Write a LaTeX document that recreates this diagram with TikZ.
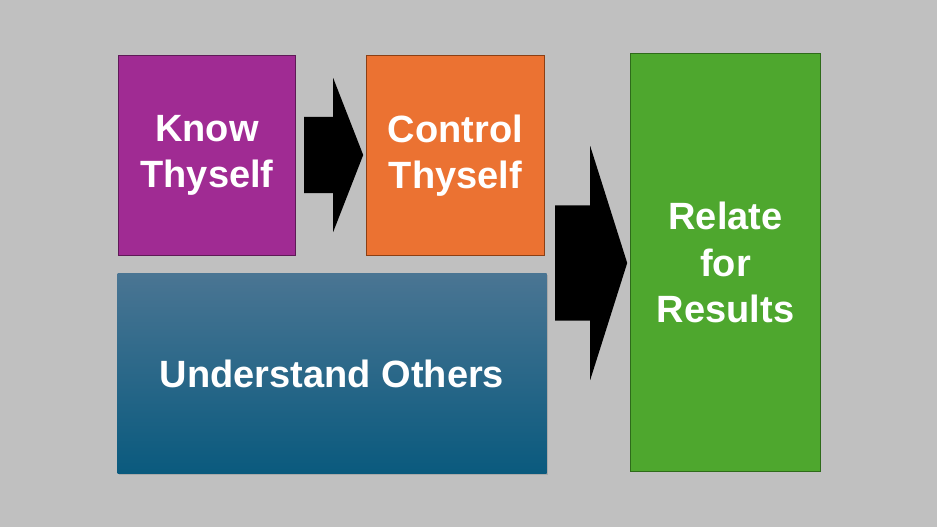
\documentclass[tikz,border=0pt]{standalone}
\usepackage{fontspec}
\setmainfont{Liberation Sans}
\usepackage{tikz}
\usetikzlibrary{arrows.meta,positioning,shapes.arrows,shadows}
\definecolor{slidegray}{HTML}{C0C0C0}
\definecolor{knowfill}{HTML}{A02B93}
\definecolor{knowline}{HTML}{5E1A56}
\definecolor{ctrlfill}{HTML}{EB7232}
\definecolor{ctrlline}{HTML}{8B3F14}
\definecolor{relfill}{HTML}{4EA72E}
\definecolor{relline}{HTML}{2E6B1A}
\definecolor{undtop}{HTML}{4A7593}
\definecolor{undbot}{HTML}{0A5A7E}

\begin{document}
\begin{tikzpicture}[
    x=1pt, y=-1pt,
    box/.style={draw, line width=1pt, inner sep=0pt, align=center, anchor=north west,
                text=white, font=\fontsize{38}{46.5}\selectfont\bfseries},
    blockarrow/.style={single arrow, fill=black, draw=none, inner xsep=0pt,
                single arrow head extend=#1, anchor=tail}
  ]
    \useasboundingbox[fill=slidegray] (0,0) rectangle (937,527);
    \node[box, draw=knowline, fill=knowfill, minimum width=177pt, minimum height=200pt]
        (know) at (118,55) {Know\\Thyself};
    \node[box, draw=ctrlline, fill=ctrlfill, minimum width=178pt, minimum height=200pt,
        right=70pt of know.north east, anchor=north west] (control) {Control\\Thyself};
    \node[box, draw=none, top color=undtop, bottom color=undbot,
        drop shadow={shadow xshift=1pt, shadow yshift=-1.5pt, opacity=0.35},
        minimum width=429pt, minimum height=200pt] (others) at (117,273) {Understand Others};
    \node[box, draw=relline, fill=relfill, minimum width=190pt, minimum height=418pt]
        (relate) at (630,53) {Relate\\for\\Results};
    % block arrows
    \node[blockarrow=39pt, inner ysep=38pt, minimum height=59pt, minimum width=154pt,
        single arrow tip angle=137.4] (arrA) at (304,155) {};
    \node[blockarrow=59.5pt, inner ysep=57.5pt, minimum height=72pt, minimum width=234pt,
        single arrow tip angle=144.9] (arrB) at (555,263) {};
  \end{tikzpicture}
\end{document}
